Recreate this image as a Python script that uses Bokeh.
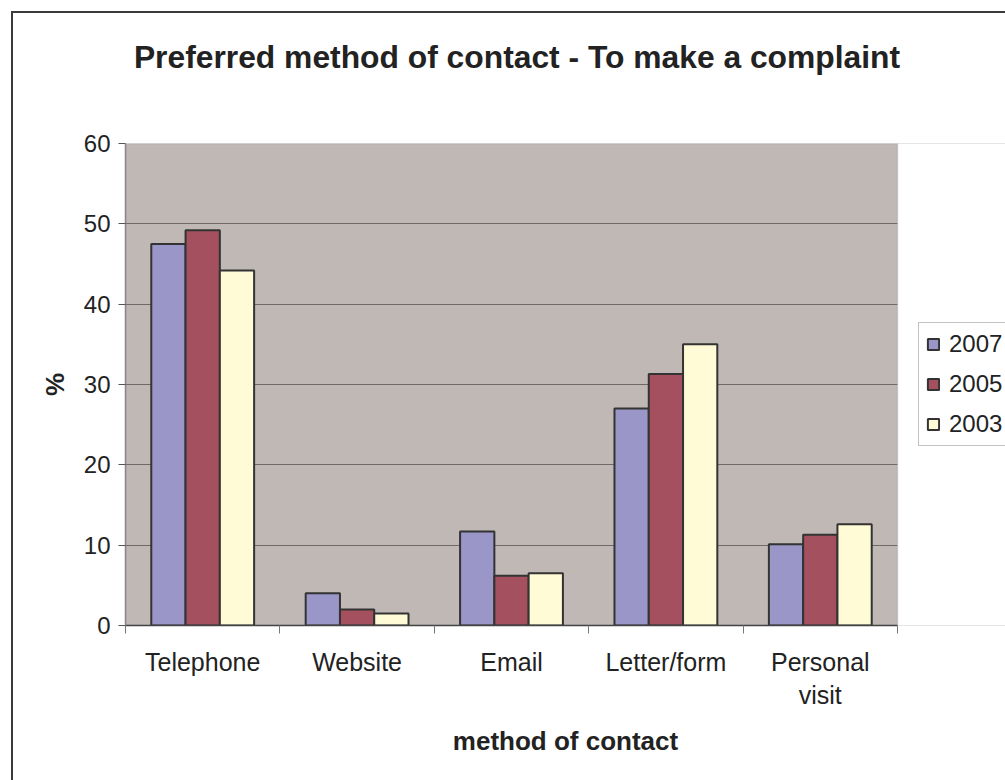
from bokeh.plotting import figure
from bokeh.layouts import column
from bokeh.models import (ColumnDataSource, Range1d, FixedTicker, Legend, LegendItem,
                          BoxAnnotation, Div)
from bokeh.transform import dodge
from bokeh.embed import file_html
from bokeh.resources import INLINE

categories = ["Telephone", "Website", "Email", "Letter/form", "Personal\nvisit"]
series_names = ["2007", "2005", "2003"]
values_2007 = [47.5, 4.0, 11.7, 27.0, 10.1]
values_2005 = [49.2, 2.0, 6.2, 31.3, 11.3]
values_2003 = [44.2, 1.5, 6.5, 35.0, 12.6]
y_ticks = [0, 10, 20, 30, 40, 50, 60]
y_max = 60
colors = ["#9A96C8", "#A4505E", "#FFFBD6"]
title_text = "Preferred method of contact - To make a complaint"

FONT = "Liberation Sans"
W, H = 1005, 780
OFF = 13                       # page offset of the chart (outer chart border)
DIV_H = 100                    # height of the title strip
PLOT_L, PLOT_R = 125, 897      # plot-area edges in the page
PLOT_T, PLOT_B = 143, 625
N = len(categories)
# the frame runs to the right page edge; the extra room is painted white
x_end = N * (W - PLOT_L) / (PLOT_R - PLOT_L)

src = ColumnDataSource(data=dict(
    x=[i + 0.5 for i in range(N)],
    v2007=values_2007, v2005=values_2005, v2003=values_2003,
))

title_div = Div(
    text=(f'<div style="position:relative;width:{W - OFF}px;height:{DIV_H}px;">'
          f'<div style="position:absolute;left:8px;top:24px;width:{W - OFF}px;'
          f'text-align:center;white-space:nowrap;line-height:40px;'
          f'font-family:\'{FONT}\';font-size:31.8px;font-weight:bold;color:#222222;">'
          f'{title_text}</div></div>'),
    width=W - OFF, height=DIV_H, margin=(0, 0, 0, 0))

p = figure(width=W - OFF, height=H - OFF - DIV_H, output_backend="svg", toolbar_location=None,
           title=None,
           x_range=Range1d(0, x_end), y_range=Range1d(0, y_max),
           min_border_left=PLOT_L - OFF, min_border_right=0,
           min_border_top=PLOT_T - OFF - DIV_H, min_border_bottom=H - PLOT_B)
p.margin = (0, 0, 0, 0)
p.background_fill_color = "#C0B8B5"
p.border_fill_color = "white"
p.outline_line_color = None

p.xgrid.grid_line_color = None
p.ygrid.grid_line_color = "#6E6868"
p.ygrid.grid_line_width = 1

# white area right of the plot area, and the plot-area border
p.add_layout(BoxAnnotation(left=N, fill_color="white", fill_alpha=1, line_color=None,
                           level="underlay"))
p.add_layout(BoxAnnotation(left=0, right=N, bottom=0, top=y_max, fill_alpha=0,
                           line_color="#888888", line_width=1.5, level="underlay"))

bw = 0.222
renderers = []
for name, col, off, c in zip(series_names, ["v2007", "v2005", "v2003"], [-bw, 0, bw], colors):
    r = p.vbar(x=dodge("x", off, range=p.x_range), top=col, width=bw, bottom=0,
               source=src, fill_color=c, line_color="#333333", line_width=2)
    renderers.append(r)

# Axes
xa = p.xaxis[0]
xa.bounds = (0, N)
xa.ticker = FixedTicker(ticks=[i + 0.5 for i in range(N)], minor_ticks=list(range(N + 1)))
xa.major_label_overrides = {i + 0.5: c for i, c in enumerate(categories)}
xa.major_tick_out = 0
xa.major_tick_in = 0
xa.minor_tick_out = 8
xa.minor_tick_in = 0
xa.minor_tick_line_color = "#777777"
xa.axis_line_color = "#444444"
xa.axis_line_width = 1.5
xa.major_label_text_font = FONT
xa.major_label_text_font_size = "25px"
xa.major_label_text_color = "#222222"
xa.major_label_standoff = 14
xa.axis_label = "method of contact"
xa.axis_label_text_font = FONT
xa.axis_label_text_font_size = "26px"
xa.axis_label_text_font_style = "bold"
xa.axis_label_text_color = "#222222"
xa.axis_label_standoff = 14

ya = p.yaxis[0]
ya.ticker = FixedTicker(ticks=y_ticks, minor_ticks=[])
ya.major_tick_out = 7
ya.major_tick_in = 0
ya.major_tick_line_color = "#555555"
ya.axis_line_color = "#888888"
ya.axis_line_width = 1.5
ya.major_label_text_font = FONT
ya.major_label_text_font_size = "24px"
ya.major_label_text_color = "#222222"
ya.major_label_standoff = 8
ya.axis_label = "%"
ya.axis_label_text_font = FONT
ya.axis_label_text_font_size = "26px"
ya.axis_label_text_font_style = "bold"
ya.axis_label_text_color = "#222222"
ya.axis_label_standoff = 11

# Legend
legend = Legend(items=[LegendItem(label=n, renderers=[r]) for n, r in zip(series_names, renderers)],
                location=(918 - PLOT_L, 179))
legend.label_text_font = FONT
legend.label_text_font_size = "24px"
legend.label_text_color = "#222222"
legend.glyph_width = 14
legend.glyph_height = 14
legend.label_height = 26
legend.label_standoff = 9
legend.spacing = 12
legend.padding = 7
legend.margin = 0
legend.border_line_color = "#888888"
legend.border_line_width = 1.5
legend.background_fill_color = "white"
legend.background_fill_alpha = 1
p.add_layout(legend)

layout = column(title_div, p, spacing=0)
layout.styles = {"margin-left": "11px", "margin-top": "11px",
                 "border-left": "2px solid #3A3A3A", "border-top": "2px solid #3A3A3A"}

open("out.html", "w").write(file_html(layout, INLINE))
